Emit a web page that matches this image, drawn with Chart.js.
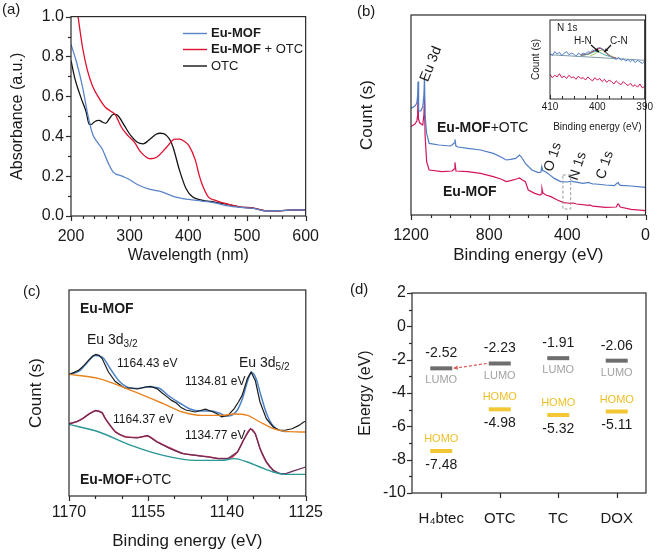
<!DOCTYPE html>
<html>
<head>
<meta charset="utf-8">
<script src="https://cdn.jsdelivr.net/npm/chart.js@4.4.1/dist/chart.umd.min.js"></script>
<style>
  body { margin: 0; background: #fff; }
  #wrap { position: relative; width: 661px; height: 555px; overflow: hidden; }
  #wrap canvas { position: absolute; }
</style>
</head>
<body>
<div id="wrap">
  <canvas id="panelA" width="330" height="280" style="left:0;top:0;width:330px;height:280px"></canvas>
  <canvas id="panelB" width="331" height="280" style="left:330px;top:0;width:331px;height:280px"></canvas>
  <canvas id="inset" width="125" height="122" style="left:530px;top:14px;width:125px;height:122px"></canvas>
  <canvas id="panelC" width="330" height="280" style="left:0;top:275px;width:330px;height:280px"></canvas>
  <canvas id="panelD" width="331" height="280" style="left:330px;top:275px;width:331px;height:280px"></canvas>
</div>
<script>
// ---- (a) UV-vis absorbance
const uvEuMofNm  = [200, 209, 220, 228.5, 237, 245, 253, 264, 272, 287, 297, 313, 335, 355, 377, 401, 423, 445, 467, 489, 511, 533, 555, 578, 600];
const uvEuMofAbs = [0.86, 0.776, 0.643, 0.51, 0.41, 0.37, 0.337, 0.262, 0.22, 0.2, 0.187, 0.158, 0.133, 0.121, 0.096, 0.083, 0.075, 0.066, 0.051, 0.043, 0.038, 0.025, 0.027, 0.03, 0.03];
const uvMixNm  = [208, 212, 220, 228, 237, 248, 259, 267, 275, 286, 297, 308, 319, 335, 346, 363, 377, 385, 393, 401, 412, 418, 423, 434, 445, 467, 489, 511, 533, 555, 578, 600];
const uvMixAbs = [1.08, 1.0, 0.84, 0.73, 0.65, 0.59, 0.544, 0.527, 0.51, 0.445, 0.403, 0.37, 0.32, 0.287, 0.295, 0.345, 0.386, 0.386, 0.375, 0.353, 0.28, 0.21, 0.163, 0.096, 0.08, 0.06, 0.045, 0.04, 0.026, 0.026, 0.03, 0.03];
const uvOtcNm  = [200, 207, 218, 226, 231, 235, 239, 244, 248, 254, 259, 266, 272, 276, 281, 291, 302, 313, 323, 335, 345, 352, 358, 363, 369, 374, 385, 396, 407, 423, 445, 467, 489, 511, 533, 555, 578, 600];
const uvOtcAbs = [0.78, 0.685, 0.585, 0.52, 0.46, 0.46, 0.47, 0.478, 0.48, 0.47, 0.465, 0.49, 0.51, 0.51, 0.5, 0.453, 0.403, 0.37, 0.362, 0.386, 0.41, 0.415, 0.413, 0.403, 0.38, 0.345, 0.229, 0.138, 0.096, 0.08, 0.07, 0.058, 0.045, 0.04, 0.026, 0.026, 0.03, 0.03];

// ---- (b) XPS survey (relative counts)
const surveyMixEv = [1200, 1180, 1170, 1166, 1164, 1162, 1160, 1150, 1140, 1134, 1131, 1128, 1120, 1107, 1057, 1000, 990, 980, 975, 970, 960, 910, 844, 779, 740, 713, 690, 664, 645, 635, 615, 582, 549, 535, 531, 526, 510, 500, 467, 434, 400, 380, 369, 320, 290, 285, 270, 255, 205, 160, 145, 140, 135, 128, 74, 0];
const surveyMixCnt = [0.533, 0.545, 0.56, 0.6, 0.667, 0.55, 0.52, 0.52, 0.54, 0.6, 0.689, 0.5, 0.408, 0.358, 0.35, 0.345, 0.35, 0.36, 0.378, 0.345, 0.34, 0.333, 0.325, 0.308, 0.29, 0.275, 0.278, 0.283, 0.3, 0.29, 0.258, 0.225, 0.212, 0.215, 0.242, 0.222, 0.215, 0.208, 0.183, 0.167, 0.165, 0.17, 0.167, 0.158, 0.163, 0.16, 0.155, 0.155, 0.15, 0.147, 0.16, 0.162, 0.152, 0.148, 0.145, 0.138];
const surveyMofEv = [1200, 1180, 1170, 1166, 1164, 1162, 1155, 1140, 1134, 1131, 1128, 1120, 1107, 1041, 990, 980, 975, 970, 910, 844, 779, 740, 713, 690, 660, 645, 630, 615, 600, 567, 540, 533, 530, 525, 510, 484, 451, 420, 400, 385, 370, 353, 290, 285, 270, 205, 150, 142, 138, 130, 74, 0];
const surveyMofCnt = [0.442, 0.455, 0.47, 0.5, 0.6, 0.48, 0.46, 0.45, 0.5, 0.58, 0.4, 0.267, 0.225, 0.217, 0.22, 0.23, 0.263, 0.22, 0.217, 0.208, 0.192, 0.18, 0.167, 0.172, 0.18, 0.185, 0.175, 0.167, 0.125, 0.108, 0.1, 0.105, 0.133, 0.11, 0.1, 0.092, 0.075, 0.062, 0.06, 0.058, 0.06, 0.055, 0.048, 0.05, 0.044, 0.038, 0.04, 0.055, 0.055, 0.04, 0.028, 0.022];

// ---- (b) inset N 1s
const n1sEv = [410, 409.5, 409, 408.5, 408, 407.5, 407, 406.5, 406, 405.5, 405, 404.5, 404, 403.5, 403, 402.5, 402, 401.5, 401, 400.5, 400, 399.5, 399, 398.5, 398, 397.5, 397, 396.5, 396, 395.5, 395, 394.5, 394, 393.5, 393, 392.5, 392, 391.5, 391, 390.5, 390];
const n1sMix = [0.58, 0.55, 0.60, 0.57, 0.59, 0.55, 0.58, 0.60, 0.56, 0.58, 0.57, 0.54, 0.58, 0.56, 0.58, 0.57, 0.60, 0.59, 0.62, 0.61, 0.64, 0.65, 0.63, 0.62, 0.58, 0.55, 0.53, 0.52, 0.50, 0.53, 0.49, 0.51, 0.48, 0.50, 0.47, 0.50, 0.46, 0.49, 0.47, 0.45, 0.48];
const n1sMof = [0.31, 0.27, 0.30, 0.28, 0.32, 0.27, 0.29, 0.26, 0.30, 0.27, 0.28, 0.25, 0.29, 0.26, 0.27, 0.24, 0.28, 0.25, 0.23, 0.27, 0.24, 0.26, 0.22, 0.25, 0.21, 0.24, 0.22, 0.19, 0.23, 0.20, 0.18, 0.22, 0.19, 0.17, 0.20, 0.16, 0.18, 0.15, 0.19, 0.14, 0.16];
const n1sBaseEv = [410, 390];
const n1sBase = [0.56, 0.49];
const n1sEnvEv = [403.5, 402, 401, 400, 399.4, 398.7, 398, 397, 396];
const n1sEnv = [0.553, 0.57, 0.6, 0.635, 0.645, 0.62, 0.575, 0.535, 0.52];
const n1sHnEv = [403.5, 402, 401, 400.3, 399.5, 398.5, 397.5];
const n1sHn = [0.553, 0.565, 0.59, 0.6, 0.59, 0.56, 0.54];
const n1sCnEv = [401.5, 400.5, 399.8, 399.1, 398.3, 397.3, 396.3];
const n1sCn = [0.55, 0.57, 0.6, 0.615, 0.59, 0.55, 0.525];

// ---- (c) Eu 3d high resolution
const eu3dMofEv  = [1170, 1169, 1168.2, 1167.2, 1166.3, 1165.5, 1164.9, 1164.3, 1163.7, 1162.5, 1161.2, 1160, 1159.4, 1158, 1157, 1155.5, 1154.5, 1153.3, 1152.3, 1151.4, 1150.5, 1149.6, 1148.7, 1147.8, 1146, 1144.1, 1142.6, 1141.8, 1141, 1139.8, 1138.6, 1137.8, 1137.1, 1136.1, 1135.4, 1134.6, 1133.7, 1132.5, 1131.2, 1130, 1128.8, 1127.6, 1126.3, 1125.4, 1125];
const eu3dMofCnt = [0.608, 0.618, 0.628, 0.652, 0.678, 0.7, 0.708, 0.703, 0.687, 0.62, 0.572, 0.55, 0.54, 0.54, 0.535, 0.545, 0.548, 0.537, 0.515, 0.497, 0.478, 0.465, 0.442, 0.43, 0.42, 0.434, 0.42, 0.41, 0.396, 0.403, 0.437, 0.47, 0.503, 0.587, 0.62, 0.578, 0.47, 0.387, 0.345, 0.328, 0.33, 0.336, 0.353, 0.37, 0.374];
const eu3dMofFitEv  = [1170, 1168, 1166.5, 1165, 1163.5, 1162, 1160.5, 1159, 1157, 1155, 1153, 1151, 1149, 1147, 1145, 1143, 1141.5, 1140, 1139, 1138, 1137, 1136, 1135.3, 1134.5, 1133.5, 1132.5, 1131.5, 1130.5, 1129.5, 1128.5];
const eu3dMofFit = [0.607, 0.625, 0.668, 0.703, 0.69, 0.63, 0.575, 0.545, 0.537, 0.545, 0.54, 0.5, 0.465, 0.435, 0.425, 0.425, 0.415, 0.4, 0.405, 0.43, 0.49, 0.58, 0.617, 0.59, 0.5, 0.415, 0.36, 0.335, 0.325, 0.322];
const eu3dMofBgEv = [1170, 1164.3, 1158.2, 1152.1, 1148.4, 1144.7, 1141, 1138.6, 1136.1, 1133.7, 1131.2, 1128.8, 1125];
const eu3dMofBg = [0.608, 0.587, 0.528, 0.462, 0.42, 0.403, 0.403, 0.41, 0.403, 0.37, 0.337, 0.323, 0.32];
const eu3dMixEv  = [1170, 1168.5, 1167.4, 1166.2, 1164.9, 1163.7, 1163.1, 1161.2, 1159.4, 1157, 1155.1, 1153.3, 1150.8, 1148.4, 1146, 1143.5, 1141.6, 1139.8, 1138, 1136.7, 1135.5, 1134.6, 1133.7, 1132.5, 1131.2, 1130, 1128.8, 1127, 1125];
const eu3dMixCnt = [0.362, 0.372, 0.387, 0.41, 0.428, 0.417, 0.387, 0.32, 0.295, 0.29, 0.303, 0.27, 0.237, 0.212, 0.203, 0.195, 0.187, 0.187, 0.22, 0.287, 0.337, 0.312, 0.237, 0.17, 0.128, 0.112, 0.112, 0.128, 0.145];
const eu3dMixFitEv = [1170, 1168.5, 1167.4, 1166.2, 1164.9, 1163.7, 1163.1, 1161.2, 1159.4, 1157, 1155.1, 1153.3, 1150.8, 1148.4, 1146, 1143.5, 1141.6, 1139.8, 1138, 1136.7, 1135.5, 1134.6, 1133.7, 1132.5, 1131.2, 1130, 1128.8];
const eu3dMixFit = [0.36, 0.372, 0.387, 0.41, 0.426, 0.415, 0.387, 0.322, 0.297, 0.292, 0.3, 0.272, 0.24, 0.213, 0.204, 0.196, 0.188, 0.188, 0.22, 0.285, 0.335, 0.31, 0.238, 0.17, 0.13, 0.113, 0.11];
const eu3dMixBgEv = [1170, 1164.3, 1158.2, 1152.1, 1146, 1141, 1138.6, 1136.1, 1133.7, 1131.2, 1128.8, 1125];
const eu3dMixBg = [0.358, 0.32, 0.253, 0.203, 0.178, 0.178, 0.187, 0.17, 0.145, 0.12, 0.108, 0.108];

// ---- (d) frontier orbital energies (eV)
const molecules = ['H\u2084btec', 'OTC', 'TC', 'DOX'];
const lumoEnergy = [-2.52, -2.23, -1.91, -2.06];
const homoEnergy = [-7.48, -4.98, -5.32, -5.11];

const FONT = '"Liberation Sans", Arial, sans-serif';
const INK = '#1a1a1a';
Chart.defaults.font.family = FONT;
Chart.defaults.color = INK;

function pts(xs, ys) {
  return xs.map(function (x, i) { return { x: x, y: ys[i] }; });
}

function tickList(min, max, step, major) {
  var out = [];
  for (var v = min; v <= max + 1e-9; v += step) {
    var r = Math.round(v * 1000) / 1000;
    out.push({ v: r, major: Math.abs(r / major - Math.round(r / major)) < 1e-6 });
  }
  return out;
}

function series(data, color, width, smooth) {
  return {
    data: data, borderColor: color, borderWidth: width || 1.3, pointRadius: 0,
    cubicInterpolationMode: smooth ? 'monotone' : 'default', tension: 0, fill: false
  };
}

function axis(min, max, step, o) {
  return {
    type: 'linear', min: min, max: max, reverse: !!o.reverse,
    grid: { display: false, drawTicks: false }, border: { display: false },
    ticks: {
      display: o.labels !== false, stepSize: step, padding: o.pad || 0, autoSkip: false, maxRotation: 0,
      font: { size: o.size || 16 }, color: INK,
      callback: o.fmt || function (v) { return String(v); }
    },
    title: o.title ? { display: true, text: o.title, color: INK, font: { size: o.titleSize || 16 }, padding: o.titlePad } : { display: false },
    afterFit: o.fit
  };
}

function options(pad, scales) {
  return {
    responsive: false, animation: false, events: [],
    layout: { padding: pad },
    plugins: { legend: { display: false }, tooltip: { enabled: false } },
    scales: scales
  };
}

// box round the plot plus tick marks (outward unless inward)
function makeFrame(cfg) {
  return {
    id: 'frame',
    afterDatasetsDraw: function (chart) {
      var ctx = chart.ctx, a = chart.chartArea, sx = chart.scales.x, sy = chart.scales.y;
      var dir = cfg.inward ? -1 : 1, big = cfg.big || 5, small = cfg.small || 3;
      ctx.save();
      ctx.strokeStyle = '#2a2a2a';
      ctx.lineWidth = cfg.width || 1.2;
      ctx.strokeRect(a.left, a.top, a.right - a.left, a.bottom - a.top);
      (cfg.x || []).forEach(function (t) {
        var p = Math.round(sx.getPixelForValue(t.v)) + 0.5;
        ctx.beginPath(); ctx.moveTo(p, a.bottom); ctx.lineTo(p, a.bottom + dir * (t.major ? big : small)); ctx.stroke();
      });
      (cfg.y || []).forEach(function (t) {
        var p = Math.round(sy.getPixelForValue(t.v)) + 0.5;
        ctx.beginPath(); ctx.moveTo(a.left, p); ctx.lineTo(a.left - dir * (t.major ? big : small), p); ctx.stroke();
      });
      ctx.restore();
    }
  };
}

function fontOf(p, size) {
  var s = p.sub ? Math.round(size * 0.68) : (p.size || size);
  return (p.bold ? 'bold ' : '') + s + 'px ' + FONT;
}

function drawText(ctx, n) {
  var parts = n.parts || [{ t: n.text }];
  var size = n.size || 14, w = 0;
  parts.forEach(function (p) { ctx.font = fontOf(p, size); p.w = ctx.measureText(p.t).width; w += p.w; });
  ctx.save();
  ctx.translate(n.x, n.y);
  if (n.rotate) ctx.rotate(n.rotate * Math.PI / 180);
  var x = n.align === 'center' ? -w / 2 : (n.align === 'right' ? -w : 0);
  ctx.textBaseline = 'middle';
  ctx.textAlign = 'left';
  ctx.fillStyle = n.color || INK;
  parts.forEach(function (p) {
    ctx.font = fontOf(p, size);
    ctx.fillText(p.t, x, p.sub ? size * 0.32 : 0);
    x += p.w;
  });
  ctx.restore();
}

function arrow(ctx, x1, y1, x2, y2, color, dash, head) {
  ctx.save();
  ctx.strokeStyle = color; ctx.fillStyle = color; ctx.lineWidth = 1.2;
  ctx.setLineDash(dash || []);
  ctx.beginPath(); ctx.moveTo(x1, y1); ctx.lineTo(x2, y2); ctx.stroke();
  ctx.setLineDash([]);
  var ang = Math.atan2(y2 - y1, x2 - x1), h = head || 5;
  ctx.beginPath();
  ctx.moveTo(x2, y2);
  ctx.lineTo(x2 - h * Math.cos(ang - 0.45), y2 - h * Math.sin(ang - 0.45));
  ctx.lineTo(x2 - h * Math.cos(ang + 0.45), y2 - h * Math.sin(ang + 0.45));
  ctx.closePath(); ctx.fill();
  ctx.restore();
}

// free annotations; fn gets the chart so items can use its scales
function makeNotes(fn) {
  return {
    id: 'notes',
    afterDraw: function (chart) {
      var ctx = chart.ctx;
      fn(chart).forEach(function (n) {
        if (n.seg) {
          ctx.save(); ctx.strokeStyle = n.color; ctx.lineWidth = n.width || 1.4;
          ctx.beginPath(); ctx.moveTo(n.seg[0], n.seg[1]); ctx.lineTo(n.seg[2], n.seg[3]); ctx.stroke(); ctx.restore();
        } else if (n.arrow) {
          arrow(ctx, n.arrow[0], n.arrow[1], n.arrow[2], n.arrow[3], n.color, n.dash, n.head);
        } else if (n.box) {
          ctx.save(); ctx.strokeStyle = n.color; ctx.lineWidth = 1; ctx.setLineDash([3, 2]);
          ctx.strokeRect(n.box[0], n.box[1], n.box[2], n.box[3]); ctx.restore();
        } else {
          drawText(ctx, n);
        }
      });
    }
  };
}

var App = {
  colors: {
    mofBlue: '#5b84c8', mixRed: '#e0102e', otc: '#141414',
    surveyBlue: '#4f7cc4', surveyPink: '#d3145c',
    fitBlue: '#4a82c6', bgOrange: '#e8831f', fitRed: '#d8344a', rawPurple: '#6a2c5c', bgTeal: '#2a9696',
    lumo: '#6e6e6e', homo: '#f2c634', lumoText: '#a2a2a2', homoText: '#eebf24'
  },

  uv: function () {
    var c = App.colors;
    new Chart(document.getElementById('panelA'), {
      type: 'line',
      data: { datasets: [
        series(pts(uvEuMofNm, uvEuMofAbs), c.mofBlue, 1.3, true),
        series(pts(uvMixNm, uvMixAbs), c.mixRed, 1.3, true),
        series(pts(uvOtcNm, uvOtcAbs), c.otc, 1.3, true)
      ] },
      options: options({ top: 15, right: 16, left: 0, bottom: 0 }, {
        x: axis(200, 600, 100, { pad: 11, title: 'Wavelength (nm)', titlePad: { bottom: 15 }, fit: function (s) { s.height = 64; } }),
        y: axis(0, 1, 0.2, { pad: 7, title: 'Absorbance (a.u.)', titlePad: { top: 8 }, fmt: function (v) { return v.toFixed(1); }, fit: function (s) { s.width = 71; } })
      }),
      plugins: [
        makeFrame({ x: tickList(200, 600, 20, 100), y: tickList(0, 1, 0.1, 0.2) }),
        makeNotes(function () {
          return [
            { text: '(a)', x: 2, y: 10, size: 15 },
            { seg: [183, 33.5, 207, 33.5], color: c.mofBlue },
            { seg: [183, 49.5, 207, 49.5], color: c.mixRed },
            { seg: [183, 66, 207, 66], color: c.otc },
            { parts: [{ t: 'Eu-MOF', bold: true }], x: 211, y: 33, size: 13 },
            { parts: [{ t: 'Eu-MOF', bold: true }, { t: ' + OTC' }], x: 211, y: 49, size: 13 },
            { text: 'OTC', x: 211, y: 66, size: 13 }
          ];
        })
      ]
    });
  },

  survey: function () {
    var c = App.colors;
    new Chart(document.getElementById('panelB'), {
      type: 'line',
      data: { datasets: [
        series(pts(surveyMixEv, surveyMixCnt), c.surveyBlue, 1.2),
        series(pts(surveyMofEv, surveyMofCnt), c.surveyPink, 1.2)
      ] },
      options: options({ top: 15, right: 6, left: 0, bottom: 0 }, {
        x: axis(0, 1200, 400, { reverse: true, pad: 11, title: 'Binding energy (eV)', titleSize: 17, titlePad: { bottom: 14 }, fit: function (s) { s.height = 65; } }),
        y: axis(0, 1, 0.2, { labels: false, title: 'Count (s)', titleSize: 17, titlePad: { top: 27 }, fit: function (s) { s.width = 81; } })
      }),
      plugins: [
        makeFrame({ x: tickList(0, 1200, 100, 400) }),
        makeNotes(function (ch) {
          var sx = ch.scales.x, sy = ch.scales.y;
          var x1 = sx.getPixelForValue(423), x2 = sx.getPixelForValue(383);
          var y1 = sy.getPixelForValue(0.2), y2 = sy.getPixelForValue(0.03);
          return [
            { text: '(b)', x: 27, y: 12, size: 15 },
            { text: 'Eu 3d', x: 101, y: 64, size: 14, rotate: -68, align: 'center' },
            { parts: [{ t: 'Eu-MOF', bold: true }, { t: '+OTC' }], x: 107, y: 128, size: 14 },
            { parts: [{ t: 'Eu-MOF', bold: true }], x: 113, y: 192, size: 14 },
            { text: 'O 1s', x: 223, y: 157, size: 14, rotate: -72, align: 'center' },
            { text: 'N 1s', x: 248, y: 166, size: 14, rotate: -72, align: 'center' },
            { text: 'C 1s', x: 275, y: 165, size: 14, rotate: -72, align: 'center' },
            { box: [x1, y1, x2 - x1, y2 - y1], color: '#9a9a9a' }
          ];
        })
      ]
    });
  },

  inset: function () {
    var c = App.colors;
    new Chart(document.getElementById('inset'), {
      type: 'line',
      data: { datasets: [
        series(pts(n1sEv, n1sMix), c.surveyBlue, 1),
        series(pts(n1sEv, n1sMof), c.surveyPink, 1),
        series(pts(n1sBaseEv, n1sBase), '#6d8fa0', 0.9),
        series(pts(n1sHnEv, n1sHn), '#3aa090', 0.9, true),
        series(pts(n1sCnEv, n1sCn), '#9cc24a', 0.9, true),
        series(pts(n1sEnvEv, n1sEnv), '#d8344a', 1.2, true)
      ] },
      options: options({ top: 6, right: 9, left: 0, bottom: 0 }, {
        x: axis(390, 410, 10, { reverse: true, pad: 2, size: 10, title: 'Binding energy (eV)', titleSize: 10, titlePad: { bottom: 3 }, fit: function (s) { s.height = 37; } }),
        y: axis(0, 1, 0.5, { labels: false, title: 'Count (s)', titleSize: 10, titlePad: { top: 0 }, fit: function (s) { s.width = 20; } })
      }),
      plugins: [
        makeFrame({ x: tickList(390, 410, 2.5, 10), inward: true, big: 4, small: 3, width: 1 }),
        makeNotes(function () {
          return [
            { text: 'N 1s', x: 27, y: 14, size: 10 },
            { text: 'H-N', x: 44, y: 27, size: 10 },
            { text: 'C-N', x: 80, y: 27, size: 10 },
            { arrow: [61, 31, 69, 38], color: '#111', head: 4 },
            { arrow: [81, 31, 74.5, 38], color: '#111', head: 4 }
          ];
        })
      ]
    });
  },

  eu3d: function () {
    var c = App.colors;
    new Chart(document.getElementById('panelC'), {
      type: 'line',
      data: { datasets: [
        series(pts(eu3dMofBgEv, eu3dMofBg), c.bgOrange, 1.4, true),
        series(pts(eu3dMixBgEv, eu3dMixBg), c.bgTeal, 1.4, true),
        series(pts(eu3dMofEv, eu3dMofCnt), '#1c1c1c', 1.2),
        series(pts(eu3dMixEv, eu3dMixCnt), c.rawPurple, 1.2),
        series(pts(eu3dMofFitEv, eu3dMofFit), c.fitBlue, 1.5, true),
        series(pts(eu3dMixFitEv, eu3dMixFit), c.fitRed, 1.5, true)
      ] },
      options: options({ top: 15, right: 16, left: 0, bottom: 0 }, {
        x: axis(1125, 1170, 15, { reverse: true, pad: 7, title: 'Binding energy (eV)', titleSize: 17, titlePad: { bottom: 3 }, fit: function (s) { s.height = 59; } }),
        y: axis(0, 1.03, 0.2, { labels: false, title: 'Count (s)', titleSize: 17, titlePad: { top: 26 }, fit: function (s) { s.width = 69; } })
      }),
      plugins: [
        makeFrame({ x: tickList(1125, 1170, 5, 15) }),
        makeNotes(function () {
          return [
            { text: '(c)', x: 23, y: 17, size: 15 },
            { parts: [{ t: 'Eu-MOF', bold: true }], x: 80, y: 34, size: 14 },
            { parts: [{ t: 'Eu 3d' }, { t: '3/2', sub: true }], x: 87, y: 65, size: 14 },
            { text: '1164.43 eV', x: 117, y: 89, size: 12 },
            { parts: [{ t: 'Eu 3d' }, { t: '5/2', sub: true }], x: 239, y: 88, size: 14 },
            { text: '1134.81 eV', x: 185, y: 107, size: 12 },
            { text: '1164.37 eV', x: 113, y: 145, size: 12 },
            { text: '1134.77 eV', x: 185, y: 161, size: 12 },
            { parts: [{ t: 'Eu-MOF', bold: true }, { t: '+OTC' }], x: 80, y: 205, size: 14 }
          ];
        })
      ]
    });
  },

  levels: function () {
    var c = App.colors;
    var level = function (data, color) {
      return { data: data, showLine: false, pointStyle: 'line', pointRadius: 11, pointBorderWidth: 4,
               pointBorderColor: color, borderColor: color, backgroundColor: color };
    };
    new Chart(document.getElementById('panelD'), {
      type: 'line',
      data: { labels: molecules, datasets: [level(lumoEnergy, c.lumo), level(homoEnergy, c.homo)] },
      options: options({ top: 18, right: 6, left: 0, bottom: 0 }, {
        x: {
          type: 'category', offset: true,
          grid: { display: false, drawTicks: false }, border: { display: false },
          ticks: { padding: 17, font: { size: 15 }, color: INK, maxRotation: 0, autoSkip: false },
          afterFit: function (s) { s.height = 62; }
        },
        y: axis(-10, 2, 2, { pad: 6, title: 'Energy (eV)', titleSize: 16, titlePad: { top: 26 }, fit: function (s) { s.width = 82; } })
      }),
      plugins: [
        makeFrame({ x: [0, 1, 2, 3].map(function (i) { return { v: i, major: true }; }), y: tickList(-10, 2, 1, 2) }),
        makeNotes(function (ch) {
          var sx = ch.scales.x, sy = ch.scales.y, out = [{ text: '(d)', x: 20, y: 15, size: 15 }];
          molecules.forEach(function (m, i) {
            var xc = sx.getPixelForValue(i), yl = sy.getPixelForValue(lumoEnergy[i]), yh = sy.getPixelForValue(homoEnergy[i]);
            out.push({ text: lumoEnergy[i].toFixed(2), x: xc, y: yl - 15, size: 14, align: 'center' });
            out.push({ text: 'LUMO', x: xc, y: yl + 12, size: 11, align: 'center', color: c.lumoText });
            out.push({ text: 'HOMO', x: xc, y: yh - 12, size: 11, align: 'center', color: c.homoText });
            out.push({ text: homoEnergy[i].toFixed(2), x: xc, y: yh + 14, size: 14, align: 'center' });
          });
          out.push({ arrow: [sx.getPixelForValue(1) - 13, sy.getPixelForValue(lumoEnergy[1]),
                             sx.getPixelForValue(0) + 12, sy.getPixelForValue(lumoEnergy[0])],
                     color: '#e05a5a', dash: [3, 2], head: 5 });
          return out;
        })
      ]
    });
  },

  init: function () {
    App.uv();
    App.survey();
    App.inset();
    App.eu3d();
    App.levels();
  }
};
App.init();
</script>
</body>
</html>
